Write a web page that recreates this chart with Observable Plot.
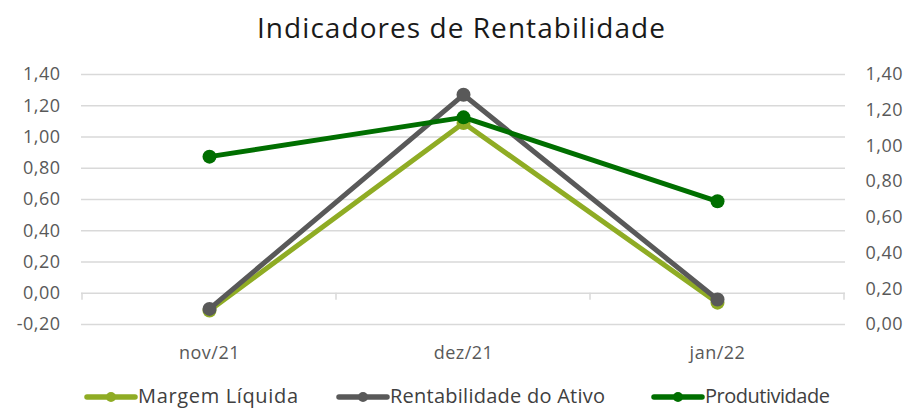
<!DOCTYPE html>
<html><head><meta charset="utf-8">
<script src="https://cdn.jsdelivr.net/npm/d3@7"></script>
<script src="https://cdn.jsdelivr.net/npm/@observablehq/plot@0.6"></script>
<style>
  body { margin: 0; background: #fff; }
  #wrap { width: 914px; height: 410px; position: relative; overflow: hidden; font-family: "Open Sans", sans-serif; }
  #title, #legend { display: block; }
  #chart { height: 318px; }
  #legend { position: absolute; left: 0; top: 370px; }
</style></head>
<body>
<div id="wrap">
  <svg id="title" width="914" height="52">
    <text x="461" y="38" text-anchor="middle" font-family="Open Sans, sans-serif" font-size="28" fill="#1a1a1a" textLength="408" lengthAdjust="spacing">Indicadores de Rentabilidade</text>
  </svg>
  <div id="chart"></div>
  <svg id="legend" width="914" height="40"></svg>
</div>
<script>
// ---- data ----
const months = ["nov/21", "dez/21", "jan/22"];
const margemLiquida = [-0.11, 1.09, -0.06];
const rentabilidadeAtivo = [-0.10, 1.27, -0.04];
const produtividade = [0.94, 1.16, 0.69];          // secondary (right) axis
const leftTicks = [-0.2, 0, 0.2, 0.4, 0.6, 0.8, 1.0, 1.2, 1.4];
const rightTicks = [0, 0.2, 0.4, 0.6, 0.8, 1.0, 1.2, 1.4];
const seriesNames = ["Margem Líquida", "Rentabilidade do Ativo", "Produtividade"];
const seriesColors = ["#8fac24", "#595959", "#006f00"];

// ---- helpers ----
const leftDomain = [-0.2, 1.4];
const rightDomain = [0, 1.4];
const toLeft = v => leftDomain[0] + (v - rightDomain[0]) * (leftDomain[1] - leftDomain[0]) / (rightDomain[1] - rightDomain[0]);
const fromLeft = v => rightDomain[0] + (v - leftDomain[0]) * (rightDomain[1] - rightDomain[0]) / (leftDomain[1] - leftDomain[0]);
const fmt = d => { const r = Math.round(d * 100) / 100; return (r < 0 ? "-" : "") + Math.abs(r).toFixed(2).replace(".", ","); };

const rows = (vals, map = v => v) => months.map((m, i) => ({month: m, value: map(vals[i])}));
const dataML = rows(margemLiquida);
const dataRA = rows(rentabilidadeAtivo);
const dataPR = rows(produtividade, toLeft);

const axisStyle = {fontFamily: "Open Sans, sans-serif", fontSize: 18, fill: "#595959"};

const boundaryTicks = (index, scales) => {
  const g = d3.create("svg:g");
  const step = scales.x(months[1]) - scales.x(months[0]);
  const y0 = scales.y(0);
  const xs = months.map(m => scales.x(m) - step / 2).concat([scales.x(months[months.length - 1]) + step / 2]);
  g.selectAll("line").data(xs).join("line")
    .attr("x1", d => d).attr("x2", d => d)
    .attr("y1", y0).attr("y2", y0 + 7)
    .attr("stroke", "#d9d9d9").attr("stroke-width", 1.5);
  return g.node();
};

const chart = Plot.plot({
  width: 914,
  height: 318,
  marginTop: 22,
  marginBottom: 46,
  marginLeft: 81,
  marginRight: 69,
  style: {fontFamily: "Open Sans, sans-serif", fontSize: "18px", color: "#595959", background: "#fff", letterSpacing: "0.5px"},
  x: {type: "point", domain: months, padding: 0.5},
  y: {domain: leftDomain},
  marks: [
    Plot.ruleY(leftTicks, {stroke: "#d9d9d9", strokeWidth: 1.5}),
    boundaryTicks,
    Plot.axisY({ticks: leftTicks, anchor: "left", tickSize: 0, tickPadding: 21, tickFormat: fmt, label: null, ...axisStyle}),
    Plot.axisY({ticks: rightTicks.map(toLeft), anchor: "right", tickSize: 0, tickPadding: 20, tickFormat: d => fmt(fromLeft(d)), label: null, ...axisStyle}),
    Plot.axisX({anchor: "bottom", tickSize: 0, tickPadding: 22, label: null, ...axisStyle}),
    Plot.line(dataML, {x: "month", y: "value", stroke: seriesColors[0], strokeWidth: 5}),
    Plot.dot(dataML, {x: "month", y: "value", r: 7, fill: seriesColors[0]}),
    Plot.line(dataRA, {x: "month", y: "value", stroke: seriesColors[1], strokeWidth: 5}),
    Plot.dot(dataRA, {x: "month", y: "value", r: 7, fill: seriesColors[1]}),
    Plot.line(dataPR, {x: "month", y: "value", stroke: seriesColors[2], strokeWidth: 5}),
    Plot.dot(dataPR, {x: "month", y: "value", r: 7, fill: seriesColors[2]})
  ]
});
document.getElementById("chart").appendChild(chart);

// ---- legend ----
const legendSwatchX = [85, 337, 652];
const legendTextLen = [160, 215, 125];
const legend = d3.select("#legend");
seriesNames.forEach((name, i) => {
  const x0 = legendSwatchX[i];
  const g = legend.append("g");
  g.append("line").attr("x1", x0 + 2).attr("x2", x0 + 50).attr("y1", 27).attr("y2", 27)
    .attr("stroke", seriesColors[i]).attr("stroke-width", 5.5).attr("stroke-linecap", "round");
  g.append("circle").attr("cx", x0 + 26).attr("cy", 27).attr("r", 5).attr("fill", seriesColors[i]);
  g.append("text").attr("x", x0 + 53).attr("y", 33)
    .attr("font-family", "Open Sans, sans-serif").attr("font-size", 20).attr("fill", "#404040")
    .attr("textLength", legendTextLen[i]).attr("lengthAdjust", "spacing")
    .text(name);
});
</script>
</body></html>
